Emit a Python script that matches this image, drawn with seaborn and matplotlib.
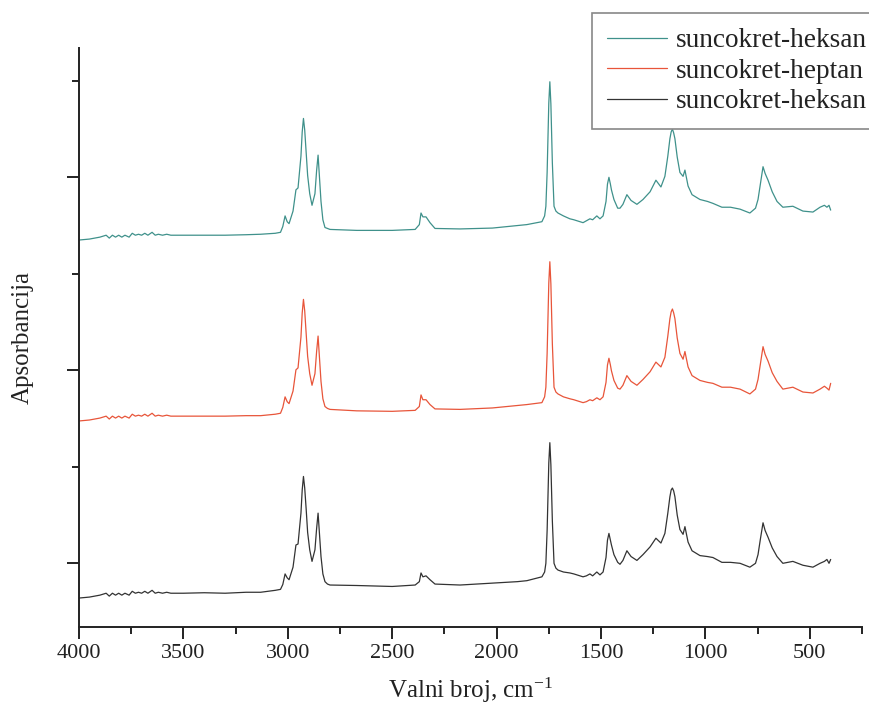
import numpy as np
import pandas as pd
import matplotlib
matplotlib.use("Agg")
import matplotlib.pyplot as plt
from matplotlib.ticker import FixedLocator, NullFormatter
import seaborn as sns

# ---- data ----
wavenumber = [4000, 3950, 3900, 3870, 3855, 3840, 3825, 3810, 3795, 3780,
              3760, 3745, 3730, 3715, 3700, 3685, 3670, 3650, 3635, 3620,
              3600, 3580, 3560, 3500, 3400, 3300, 3200, 3130, 3060, 3035,
              3024, 3013, 3003, 2994, 2975, 2961, 2951, 2937, 2931, 2925,
              2919, 2912, 2905, 2895, 2884, 2870, 2862, 2855, 2848, 2841,
              2832, 2822, 2810, 2798, 2670, 2500, 2390, 2370, 2362, 2353,
              2338, 2319, 2295, 2175, 2020, 1900, 1855, 1783, 1770, 1764,
              1758, 1750, 1745, 1740, 1733, 1725, 1716, 1706, 1680, 1649,
              1630, 1600, 1586, 1570, 1553, 1540, 1520, 1505, 1490, 1476,
              1469, 1462, 1455, 1450, 1438, 1420, 1409, 1395, 1376, 1356,
              1328, 1299, 1265, 1237, 1213, 1194, 1180, 1170, 1164, 1158,
              1152, 1146, 1135, 1122, 1107, 1098, 1083, 1064, 1026, 990,
              964, 921, 880, 834, 787, 760, 748, 736, 724, 714,
              700, 680, 657, 629, 581, 533, 485, 451, 430, 418,
              408, 400]

abs_heksan_2 = [0.00, 0.01, 0.03, 0.05, 0.02, 0.05, 0.03, 0.05, 0.03, 0.05,
                0.03, 0.07, 0.05, 0.06, 0.05, 0.07, 0.05, 0.08, 0.05, 0.06,
                0.05, 0.06, 0.05, 0.05, 0.055, 0.05, 0.06, 0.06, 0.08, 0.09,
                0.14, 0.25, 0.21, 0.19, 0.32, 0.55, 0.56, 0.88, 1.12, 1.26,
                1.14, 0.92, 0.68, 0.50, 0.38, 0.50, 0.72, 0.88, 0.66, 0.43,
                0.25, 0.17, 0.145, 0.135, 0.13, 0.12, 0.135, 0.17, 0.26, 0.22,
                0.23, 0.19, 0.145, 0.135, 0.155, 0.17, 0.18, 0.22, 0.27, 0.36,
                0.70, 1.40, 1.61, 1.38, 0.80, 0.36, 0.31, 0.29, 0.27, 0.26,
                0.25, 0.23, 0.22, 0.23, 0.25, 0.23, 0.27, 0.24, 0.27, 0.42,
                0.60, 0.67, 0.60, 0.55, 0.45, 0.37, 0.35, 0.39, 0.49, 0.43,
                0.39, 0.45, 0.53, 0.62, 0.57, 0.67, 0.88, 1.05, 1.12, 1.14,
                1.11, 1.05, 0.86, 0.71, 0.66, 0.74, 0.58, 0.49, 0.44, 0.43,
                0.42, 0.37, 0.37, 0.36, 0.32, 0.36, 0.45, 0.62, 0.78, 0.70,
                0.63, 0.52, 0.43, 0.36, 0.38, 0.34, 0.32, 0.36, 0.38, 0.40,
                0.36, 0.40]

abs_heptan = [0.00, 0.01, 0.03, 0.05, 0.02, 0.05, 0.03, 0.05, 0.03, 0.05,
              0.03, 0.07, 0.05, 0.06, 0.05, 0.07, 0.05, 0.08, 0.05, 0.06,
              0.05, 0.06, 0.05, 0.05, 0.05, 0.05, 0.055, 0.055, 0.07, 0.08,
              0.14, 0.25, 0.20, 0.18, 0.31, 0.53, 0.55, 0.87, 1.12, 1.26,
              1.14, 0.91, 0.67, 0.49, 0.37, 0.49, 0.72, 0.88, 0.65, 0.41,
              0.23, 0.15, 0.13, 0.12, 0.105, 0.10, 0.11, 0.15, 0.27, 0.22,
              0.22, 0.17, 0.125, 0.12, 0.135, 0.16, 0.17, 0.19, 0.25, 0.35,
              0.70, 1.43, 1.65, 1.42, 0.80, 0.35, 0.30, 0.28, 0.25, 0.23,
              0.22, 0.20, 0.19, 0.20, 0.22, 0.21, 0.24, 0.22, 0.25, 0.40,
              0.58, 0.65, 0.58, 0.52, 0.42, 0.34, 0.33, 0.37, 0.47, 0.41,
              0.37, 0.43, 0.51, 0.61, 0.56, 0.66, 0.88, 1.06, 1.13, 1.16,
              1.12, 1.06, 0.86, 0.70, 0.64, 0.72, 0.56, 0.47, 0.42, 0.40,
              0.39, 0.35, 0.35, 0.33, 0.28, 0.33, 0.43, 0.60, 0.77, 0.69,
              0.62, 0.50, 0.41, 0.33, 0.35, 0.30, 0.29, 0.33, 0.36, 0.34,
              0.32, 0.39]

abs_heksan_1 = [0.00, 0.01, 0.03, 0.05, 0.02, 0.05, 0.03, 0.05, 0.03, 0.05,
                0.03, 0.07, 0.05, 0.06, 0.05, 0.07, 0.05, 0.08, 0.05, 0.06,
                0.05, 0.06, 0.05, 0.05, 0.05, 0.05, 0.055, 0.06, 0.07, 0.08,
                0.14, 0.25, 0.19, 0.17, 0.30, 0.52, 0.54, 0.87, 1.12, 1.26,
                1.14, 0.91, 0.67, 0.48, 0.36, 0.48, 0.72, 0.88, 0.64, 0.40,
                0.21, 0.13, 0.12, 0.11, 0.10, 0.10, 0.11, 0.16, 0.28, 0.24,
                0.24, 0.18, 0.12, 0.115, 0.124, 0.15, 0.16, 0.19, 0.25, 0.35,
                0.70, 1.42, 1.64, 1.41, 0.80, 0.35, 0.30, 0.28, 0.25, 0.22,
                0.21, 0.19, 0.18, 0.20, 0.22, 0.21, 0.25, 0.22, 0.25, 0.40,
                0.58, 0.65, 0.58, 0.52, 0.42, 0.33, 0.33, 0.37, 0.47, 0.41,
                0.37, 0.42, 0.50, 0.62, 0.55, 0.66, 0.87, 1.05, 1.12, 1.15,
                1.11, 1.05, 0.86, 0.70, 0.66, 0.725, 0.56, 0.47, 0.42, 0.40,
                0.38, 0.34, 0.34, 0.32, 0.28, 0.33, 0.42, 0.59, 0.76, 0.69,
                0.62, 0.50, 0.40, 0.34, 0.35, 0.30, 0.29, 0.34, 0.36, 0.34,
                0.36, 0.31]

series_labels = ["suncokret-heksan", "suncokret-heptan", "suncokret-heksan"]
series_values = [abs_heksan_1, abs_heptan, abs_heksan_2]
series_offsets = [3.347, 1.472, -0.363]
series_colors = ["#3f918b", "#e8553a", "#333333"]

x_ticks = [4000, 3500, 3000, 2500, 2000, 1500, 1000, 500]
x_minor_ticks = [3750, 3250, 2750, 2250, 1750, 1250, 750, 250]

# ---- plotting ----
sns.set_style("ticks")
plt.rcParams["font.family"] = ["Liberation Serif", "DejaVu Serif"]
plt.rcParams["mathtext.default"] = "regular"

fig = plt.figure(figsize=(8.7, 7.2), dpi=100)
ax = fig.add_axes([79 / 870, 1 - 627 / 720, (862 - 79) / 870, (627 - 48) / 720])

for lab, vals, off, col in zip(series_labels, series_values, series_offsets, series_colors):
    df = pd.DataFrame({"wn": wavenumber, "a": np.array(vals) + off})
    sns.lineplot(data=df, x="wn", y="a", ax=ax, color=col, linewidth=0.9,
                 estimator=None, sort=False, label=lab)

ax.set_xlim(4000, 250)
ax.set_ylim(-0.663, 5.337)
ax.xaxis.set_major_locator(FixedLocator(x_ticks))
ax.xaxis.set_minor_locator(FixedLocator(x_minor_ticks))
ax.yaxis.set_major_locator(FixedLocator([0, 2, 4]))
ax.yaxis.set_minor_locator(FixedLocator([1, 3, 5]))
ax.yaxis.set_major_formatter(NullFormatter())
ax.set_xticklabels([str(t) for t in x_ticks])

for s in ["top", "right"]:
    ax.spines[s].set_visible(False)
for s in ["left", "bottom"]:
    ax.spines[s].set_linewidth(1.4)
    ax.spines[s].set_color("#222222")

ax.tick_params(axis="both", which="major", direction="out", length=8.5, width=1.4,
               color="#222222", labelsize=16, labelcolor="#222222", pad=4)
ax.tick_params(axis="both", which="minor", direction="out", length=5, width=1.4,
               color="#222222")

ax.set_xlabel("Valni broj, cm$^{-1}$", fontsize=18, color="#222222", labelpad=9)
ax.set_ylabel("Apsorbancija", fontsize=18, color="#222222", labelpad=20)

leg = ax.legend(loc="upper left", bbox_to_anchor=(592 / 870, 1 - 13 / 720),
                bbox_transform=fig.transFigure, fontsize=19.6, frameon=True,
                fancybox=False, edgecolor="#888888", framealpha=1,
                handlelength=2.2, handletextpad=0.33, labelspacing=0.2,
                borderpad=0.55, borderaxespad=0)
leg.get_frame().set_linewidth(1.2)
for t in leg.get_texts():
    t.set_color("#222222")

fig.savefig("out.png", dpi=100)
